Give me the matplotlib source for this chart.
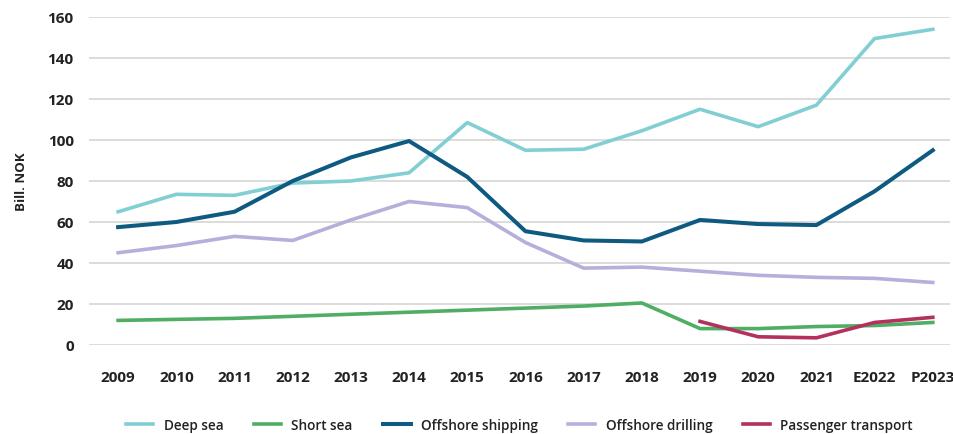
import matplotlib
matplotlib.use("Agg")
import matplotlib.pyplot as plt
import numpy as np

years = ["2009", "2010", "2011", "2012", "2013", "2014", "2015", "2016", "2017",
         "2018", "2019", "2020", "2021", "E2022", "P2023"]
deep_sea = [65, 73.5, 73, 79, 80, 84, 108.5, 95, 95.5, 104.5, 115, 106.5, 117, 149.5, 154]
short_sea = [12, 12.5, 13, 14, 15, 16, 17, 18, 19, 20.5, 8, 8, 9, 9.5, 11]
offshore_shipping = [57.5, 60, 65, 80, 91.5, 99.5, 82, 55.5, 51, 50.5, 61, 59, 58.5, 75, 95]
offshore_drilling = [45, 48.5, 53, 51, 61, 70, 67, 50, 37.5, 38, 36, 34, 33, 32.5, 30.5]
passenger_years = ["2019", "2020", "2021", "E2022", "P2023"]
passenger = [11.5, 4, 3.5, 11, 13.5]

plt.rcParams['font.family'] = ['Open Sans', 'DejaVu Sans']

fig = plt.figure(figsize=(9.54, 4.35), dpi=100)
ax = fig.add_axes([89/954, 1 - 346/435, (950 - 89)/954, (346 - 18)/435])

x = np.arange(len(years))
xp = np.array([years.index(y) for y in passenger_years])

lw = 2.6
ax.plot(x, deep_sea, color="#82cfd3", lw=lw, label="Deep sea", solid_joinstyle="round", clip_on=False)
ax.plot(x, short_sea, color="#4fae64", lw=lw, label="Short sea", solid_joinstyle="round", clip_on=False)
ax.plot(x, offshore_shipping, color="#0f5a80", lw=lw + 0.3, label="Offshore shipping", solid_joinstyle="round", clip_on=False)
ax.plot(x, offshore_drilling, color="#b7afdb", lw=lw, label="Offshore drilling", solid_joinstyle="round", clip_on=False)
ax.plot(xp, passenger, color="#b3305f", lw=lw, label="Passenger transport", solid_joinstyle="round", clip_on=False)

ax.set_xlim(-0.5, (950 - 118) / 58.2)
ax.set_ylim(0, 160)
ax.set_yticks(np.arange(0, 161, 20))
ax.set_xticks(x)
ax.set_xticklabels(years)
ax.yaxis.grid(True, color="#d9d9d9", lw=1.3)
ax.set_axisbelow(True)
for s in ax.spines.values():
    s.set_visible(False)
ax.tick_params(axis="both", length=0, labelsize=11)
ax.tick_params(axis="x", pad=18)
ax.tick_params(axis="y", pad=11)
for lab in ax.get_xticklabels() + ax.get_yticklabels():
    lab.set_fontweight("bold")
    lab.set_color("#222222")
ax.set_ylabel("Bill. NOK", fontsize=9.5, fontweight="bold", color="#222222", labelpad=14)

leg = ax.legend(loc="upper center", bbox_to_anchor=(0.5, -0.185), ncol=5, frameon=False,
                fontsize=9.8, handlelength=2.0, columnspacing=2.25, handletextpad=0.75)
for t in leg.get_texts():
    t.set_fontweight("semibold")
    t.set_color("#222222")

fig.savefig("out.png", dpi=100)
